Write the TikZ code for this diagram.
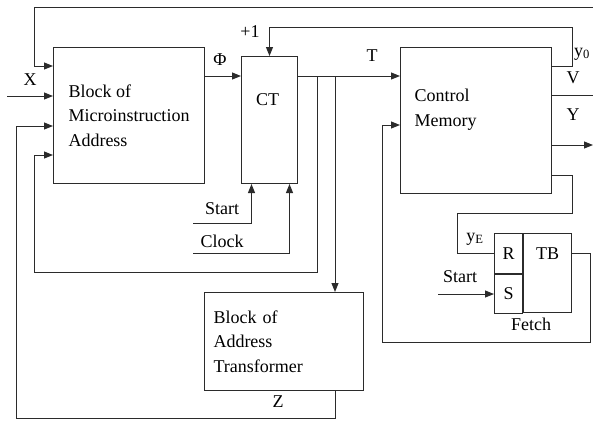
\documentclass[tikz,border=0pt]{standalone}
\usepackage{fontspec}
\setmainfont{Liberation Serif}
\usetikzlibrary{
  arrows.meta,
  positioning,
  calc
}
\definecolor{linegrey}{HTML}{2B2B2B}
\tikzset{
  blockbox/.style={
    rectangle, draw=linegrey, line width=1pt, inner sep=0pt,
    anchor=north west
  },
  wire/.style={
    draw=linegrey, line width=1pt
  },
  arrowstyle/.style={
    wire, -{Triangle[length=9pt,width=7pt]}
  },
}

\begin{document}
\begin{tikzpicture}[x=1pt, y=-1pt, font=\fontsize{18}{24.5}\selectfont]
  \useasboundingbox (0,0) rectangle (593,421);

  \node[blockbox, minimum width=151pt, minimum height=136pt, align=left] (bma) at (53,47) {Block of\\Microinstruction\\Address};
  \node[blockbox, minimum width=56pt, minimum height=127pt] (ct) at (241,56) {};
  \node[blockbox, minimum width=151pt, minimum height=146pt] (cm) at (400,47) {};
  \node[blockbox, minimum height=98pt, text width=141pt, inner xsep=9pt, align=left] (bat) at (204,292) {Block of\\Address\\Transformer};
  \node[blockbox, minimum width=28pt, minimum height=40pt] (rr) at (494,233) {R};
  \node[blockbox, minimum width=28pt, minimum height=39pt] (ss) at (rr.south west) {S};
  \node[blockbox, minimum width=48pt, minimum height=79pt] (tb) at (rr.north east) {};

  \node (ctlbl) at ($(ct.north)+(-2,44)$) {CT};
  \node[align=left, anchor=west] (cmlbl) at ($(cm.west)+(11,-11)$) {Control\\Memory};
  \node (tblbl) at (tb.north |- rr.west) {TB};

  \coordinate (topin) at (593,7);
  \coordinate (xin) at (7,96);
  \coordinate (bin1) at ($(bma.north west)+(0,19)$);
  \coordinate (bin3) at ($(bma.north west)+(0,79)$);
  \coordinate (bin4) at ($(bma.north west)+(0,108)$);
  \coordinate (ctout) at ($(ct.north east)+(0,20)$);
  \coordinate (fbk) at ($(ctout)+(19,0)$);
  \coordinate (trn) at ($(ctout)+(37,0)$);
  \coordinate (y0out) at ($(cm.north east)+(0,19)$);
  \coordinate (vout) at ($(cm.north east)+(0,48)$);
  \coordinate (yout) at ($(cm.north east)+(0,98)$);
  \coordinate (yeout) at ($(cm.north east)+(0,128)$);
  \coordinate (cmin) at ($(cm.north west)+(0,78)$);
  \coordinate (fstart) at ($(ss.west)+(-56,0)$);
  \coordinate (cstart) at (193,223);
  \coordinate (clk) at (193,253);

  \draw[arrowstyle] (topin) -| ([xshift=-19pt]bin1) -- (bin1);
  \draw[arrowstyle] (xin) -- (xin -| bma.west);
  \draw[arrowstyle] (bma.east |- ctout) -- (ct.west |- ctout);
  \draw[arrowstyle] (ctout) -- (cm.west |- ctout);
  \draw[arrowstyle] (fbk) |- ($(bin4)+(-19,117)$) |- (bin4);
  \draw[arrowstyle] (trn) -- (trn |- bat.north);
  \draw[arrowstyle] (trn |- bat.south) |- ($(bin3)+(-37,292)$) |- (bin3);
  \draw[arrowstyle] (y0out) -| ($(tb.north east |- ct.north)+(0,-29)$) -| (ct.north);
  \draw[wire] (vout) -- (vout -| topin);
  \draw[arrowstyle] (yout) -- (yout -| topin);
  \draw[wire] (yeout) -| ($(tb.north east)+(0,-20)$) -| ($(rr.west)+(-37,0)$) -- (rr.west);
  \draw[arrowstyle] (fstart) -- (ss.west);
  \draw[arrowstyle] (tb.east |- rr.west) -- ++(18,0) |- ($(cmin)+(-18,217)$) |- (cmin);
  \draw[arrowstyle] (cstart) -| ($(ct.south)+(-18,0)$);
  \draw[arrowstyle] (clk) -| ($(ct.south)+(20,0)$);

  \node (xlbl) at (30,80) {X};
  \node (philbl) at (220,60) {Φ};
  \node (plus) at (250,32) {+1};
  \node (tlbl) at (372,56) {T};
  \node (y0lbl) at (582,54) {y\textsubscript{0}};
  \node (vlbl) at (573,78) {V};
  \node (ylbl) at (573,115) {Y};
  \node (startct) at (222,209) {Start};
  \node (clklbl) at (222,241) {Clock};
  \node (zlbl) at (278,402) {Z};
  \node (yelbl) at (475,239) {y\textsubscript{E}};
  \node (startf) at (460,277) {Start};
  \node (fetch) at (531,324) {Fetch};
\end{tikzpicture}
\end{document}
